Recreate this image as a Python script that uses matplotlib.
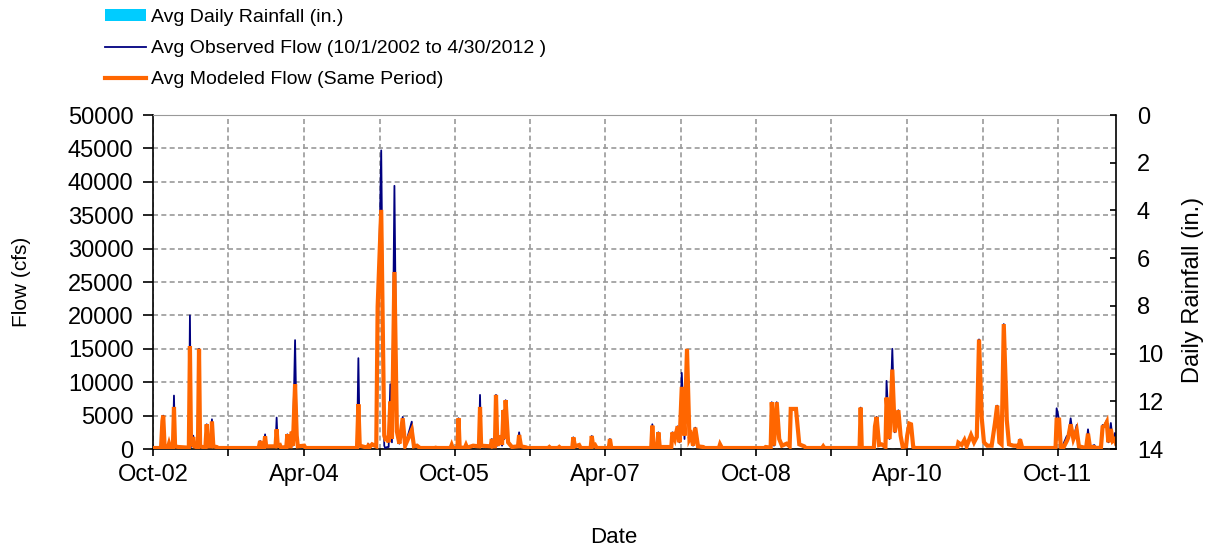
import numpy as np
import pandas as pd
import matplotlib
matplotlib.use("Agg")
import matplotlib.pyplot as plt
from matplotlib.patches import Patch
from matplotlib.lines import Line2D

# flow hydrograph vertices (cfs)
flow_dates = [
    "2002-10-01", "2002-10-30", "2002-11-04", "2002-11-07", "2002-11-12", "2002-11-24", "2002-11-28", "2002-12-02",
    "2002-12-12", "2002-12-16", "2002-12-20", "2003-01-01", "2003-02-08", "2003-02-12", "2003-02-16", "2003-02-24",
    "2003-02-28", "2003-03-13", "2003-03-17", "2003-03-21", "2003-04-09", "2003-04-14", "2003-04-18", "2003-04-29",
    "2003-05-03", "2003-05-08", "2003-05-20", "2003-05-26", "2003-10-20", "2003-10-25", "2003-10-30", "2003-11-08",
    "2003-11-12", "2003-11-16", "2003-12-06", "2003-12-20", "2003-12-24", "2003-12-28", "2004-01-05", "2004-01-09",
    "2004-01-28", "2004-02-01", "2004-02-05", "2004-02-13", "2004-02-17", "2004-02-21", "2004-02-29", "2004-03-06",
    "2004-03-10", "2004-04-02", "2004-04-07", "2004-10-11", "2004-10-16", "2004-10-21", "2004-11-17", "2004-11-21",
    "2004-11-26", "2004-12-05", "2004-12-20", "2004-12-25", "2005-01-07", "2005-01-18", "2005-01-22", "2005-01-28",
    "2005-02-03", "2005-02-09", "2005-02-15", "2005-02-24", "2005-03-05", "2005-03-14", "2005-03-26", "2005-04-04",
    "2005-04-28", "2005-05-06", "2005-05-17", "2005-05-28", "2005-07-20", "2005-07-24", "2005-07-28", "2005-09-16",
    "2005-09-20", "2005-09-24", "2005-10-11", "2005-10-15", "2005-10-19", "2005-11-07", "2005-11-11", "2005-11-15",
    "2005-12-07", "2005-12-28", "2006-01-01", "2006-01-05", "2006-02-09", "2006-02-13", "2006-02-17", "2006-02-24",
    "2006-02-28", "2006-03-05", "2006-03-18", "2006-03-22", "2006-03-27", "2006-03-30", "2006-04-04", "2006-04-13",
    "2006-04-27", "2006-05-19", "2006-05-23", "2006-05-30", "2006-06-17", "2006-06-22", "2006-09-06", "2006-09-10",
    "2006-09-14", "2006-10-12", "2006-10-16", "2006-10-20", "2006-12-02", "2006-12-06", "2006-12-12", "2006-12-27",
    "2007-01-02", "2007-02-07", "2007-02-11", "2007-02-16", "2007-02-23", "2007-03-01", "2007-04-14", "2007-04-18",
    "2007-04-23", "2007-09-15", "2007-09-19", "2007-09-24", "2007-10-07", "2007-10-11", "2007-10-16", "2007-11-04",
    "2007-11-27", "2007-12-01", "2007-12-10", "2007-12-20", "2007-12-27", "2008-01-04", "2008-01-14", "2008-01-23",
    "2008-02-01", "2008-02-07", "2008-02-14", "2008-02-22", "2008-03-03", "2008-03-22", "2008-03-27", "2008-05-18",
    "2008-05-22", "2008-05-29", "2008-10-31", "2008-11-04", "2008-11-22", "2008-11-26", "2008-12-04", "2008-12-14",
    "2008-12-23", "2009-01-02", "2009-01-19", "2009-01-30", "2009-02-03", "2009-02-22", "2009-03-06", "2009-03-24",
    "2009-03-30", "2009-05-28", "2009-06-01", "2009-06-05", "2009-10-11", "2009-10-15", "2009-10-19", "2009-12-02",
    "2009-12-06", "2009-12-12", "2009-12-21", "2009-12-30", "2010-01-13", "2010-01-17", "2010-01-28", "2010-02-07",
    "2010-02-16", "2010-03-01", "2010-03-09", "2010-03-17", "2010-03-29", "2010-04-02", "2010-04-10", "2010-04-16",
    "2010-04-24", "2010-04-30", "2010-10-01", "2010-10-05", "2010-10-17", "2010-10-27", "2010-11-04", "2010-11-20",
    "2010-12-01", "2010-12-11", "2010-12-19", "2010-12-29", "2011-01-06", "2011-01-18", "2011-02-03", "2011-02-15",
    "2011-02-23", "2011-03-03", "2011-03-11", "2011-03-19", "2011-03-30", "2011-04-07", "2011-04-23", "2011-05-05",
    "2011-05-12", "2011-05-17", "2011-05-25", "2011-09-23", "2011-09-27", "2011-10-06", "2011-10-12", "2011-10-21",
    "2011-11-03", "2011-11-08", "2011-11-17", "2011-11-27", "2011-12-09", "2011-12-17", "2012-01-12", "2012-01-19",
    "2012-01-26", "2012-02-11", "2012-02-17", "2012-03-06", "2012-03-12", "2012-03-21", "2012-03-27", "2012-04-02",
    "2012-04-11", "2012-04-18", "2012-04-26", "2012-04-30",
]
observed_cfs = [
    50, 50, 4200, 5000, 200, 100, 800, 100,
    100, 8000, 300, 300, 100, 20000, 300, 2000,
    300, 100, 15000, 300, 100, 3700, 300, 300,
    4450, 300, 300, 50, 50, 1200, 200, 200,
    2200, 300, 400, 300, 4700, 500, 600, 100,
    200, 2200, 300, 300, 2600, 500, 16300, 2000,
    300, 500, 50, 50, 13600, 500, 100, 800,
    200, 700, 300, 15000, 44700, 500, 100, 300,
    300, 9700, 1000, 39400, 2600, 800, 4800, 500,
    4100, 300, 500, 50, 50, 200, 50, 50,
    600, 50, 50, 4600, 100, 100, 600, 100,
    500, 300, 8100, 500, 300, 1500, 300, 300,
    8100, 500, 2000, 500, 5800, 1500, 7300, 1000,
    300, 300, 2500, 400, 200, 50, 50, 300,
    50, 50, 300, 50, 50, 1750, 300, 600,
    50, 50, 1950, 300, 600, 50, 50, 1500,
    50, 50, 3700, 200, 200, 2500, 200, 300,
    200, 2500, 1500, 3400, 1000, 11400, 1500, 14500,
    1500, 2000, 500, 3200, 400, 300, 50, 50,
    700, 50, 50, 300, 100, 7000, 500, 7000,
    1500, 500, 800, 300, 6000, 6000, 700, 400,
    50, 50, 400, 50, 50, 6200, 50, 50,
    3400, 4800, 600, 700, 200, 10200, 1500, 15000,
    2500, 5800, 2000, 300, 300, 2000, 3800, 3700,
    300, 50, 50, 950, 600, 1350, 400, 2100,
    1000, 1800, 16400, 4600, 1000, 500, 500, 3900,
    6500, 1000, 700, 18700, 4300, 700, 500, 500,
    100, 1450, 50, 50, 6100, 4400, 300, 700,
    1950, 1700, 4600, 1500, 3600, 400, 100, 2950,
    300, 600, 100, 200, 3600, 3500, 4300, 1000,
    3900, 1200, 2400, 1000,
]
modeled_cfs = [
    150, 150, 4200, 5000, 300, 200, 800, 200,
    200, 6300, 400, 300, 200, 15400, 400, 1800,
    400, 200, 15000, 400, 200, 3700, 400, 400,
    4100, 400, 300, 150, 150, 1200, 300, 300,
    1900, 400, 400, 400, 2950, 500, 600, 200,
    300, 2200, 400, 400, 2600, 500, 9700, 2000,
    400, 500, 150, 150, 6700, 500, 200, 500,
    300, 700, 400, 21300, 35800, 2000, 1500, 1650,
    1000, 7100, 1500, 26500, 2600, 800, 4600, 500,
    2800, 400, 500, 150, 150, 200, 150, 150,
    600, 150, 150, 4600, 200, 200, 600, 200,
    500, 400, 6300, 500, 400, 1500, 400, 400,
    8100, 500, 2000, 600, 5800, 1500, 7300, 1000,
    300, 400, 2100, 400, 250, 150, 150, 300,
    150, 150, 300, 150, 150, 1750, 400, 600,
    150, 150, 1950, 400, 600, 150, 150, 1500,
    150, 150, 3500, 300, 300, 2500, 300, 300,
    300, 2500, 1500, 3400, 1000, 9300, 2000, 15000,
    1500, 2000, 500, 3200, 400, 300, 150, 150,
    700, 150, 150, 300, 200, 7000, 500, 7000,
    1500, 500, 800, 400, 6000, 6000, 700, 400,
    150, 150, 400, 150, 150, 6200, 150, 150,
    3400, 4800, 600, 700, 300, 7700, 1500, 11900,
    2500, 5800, 2000, 300, 400, 2000, 3800, 3700,
    300, 150, 150, 950, 600, 1350, 400, 2100,
    1000, 1800, 16400, 4600, 1000, 500, 500, 3900,
    6500, 1000, 700, 18700, 4300, 700, 500, 500,
    150, 1450, 150, 150, 4400, 4400, 300, 150,
    1200, 1700, 3700, 1500, 2800, 400, 150, 2300,
    300, 300, 150, 200, 3300, 3500, 4000, 1000,
    3000, 1200, 1500, 800,
]

# no rainfall bars are visible in the source, only the legend entry
rain_dates = []
rain_in = []

tick_dates = ["2002-10-01", "2003-07-01", "2004-04-01", "2005-01-01", "2005-10-01",
              "2006-07-01", "2007-04-01", "2008-01-01", "2008-10-01", "2009-07-01",
              "2010-04-01", "2011-01-01", "2011-10-01"]
tick_labels = ["Oct-02", "", "Apr-04", "", "Oct-05", "", "Apr-07", "", "Oct-08",
               "", "Apr-10", "", "Oct-11"]

plt.rcParams['font.family'] = ['Liberation Sans', 'DejaVu Sans']

fig = plt.figure(figsize=(12.08, 5.5), dpi=100)
ax = fig.add_axes([0.1267, 0.1836, 0.7972, 0.6073])
ax2 = ax.twinx()

d = pd.to_datetime(flow_dates)
ax.plot(d, observed_cfs, color="#000080", lw=1.3, zorder=3)
ax.plot(d, modeled_cfs, color="#FF6600", lw=3.0, zorder=4, solid_joinstyle="miter")

ax2.bar(pd.to_datetime(rain_dates), rain_in, color="#00CCFF", width=1)

ax.set_xlim(pd.Timestamp("2002-10-01"), pd.Timestamp("2012-04-30"))
ax.set_ylim(0, 50000)
ax.set_yticks(np.arange(0, 50001, 5000))
ax2.set_ylim(14, 0)
ax2.set_yticks(np.arange(0, 15, 2))

ax.set_xticks(pd.to_datetime(tick_dates))
ax.set_xticklabels(tick_labels)

ax.grid(True, color="#999999", ls=(0, (3, 2)), lw=1.2)
ax.set_axisbelow(True)

for s in ["left", "bottom"]:
    ax.spines[s].set_color("black")
    ax.spines[s].set_linewidth(1.2)
ax.spines["top"].set_color("#999999")
ax.spines["right"].set_visible(False)
ax2.spines["top"].set_visible(False)
ax2.spines["left"].set_visible(False)
ax2.spines["bottom"].set_visible(False)
ax2.spines["right"].set_linewidth(1.2)

ax.tick_params(axis="y", direction="out", length=7, width=1.2, labelsize=17, pad=7)
ax.tick_params(axis="x", direction="out", length=5, width=1.2, labelsize=17, pad=6)
ax2.tick_params(axis="y", direction="in", length=4, width=1.2, labelsize=17, pad=15)

ax.set_ylabel("Flow (cfs)", fontsize=15)
ax.yaxis.set_label_coords(-0.127, 0.5)
ax.set_xlabel("Date", fontsize=16)
ax.xaxis.set_label_coords(0.478, -0.2335)
ax2.set_ylabel("Daily Rainfall (in.)", fontsize=17)
ax2.yaxis.set_label_coords(1.0685, 0.476)

handles = [Patch(facecolor="#00CCFF", edgecolor="none"),
           Line2D([], [], color="#000080", lw=1.3),
           Line2D([], [], color="#FF6600", lw=3.0)]
labels = ["Avg Daily Rainfall (in.)",
          "Avg Observed Flow (10/1/2002 to 4/30/2012 )",
          "Avg Modeled Flow (Same Period)"]
fig.legend(handles, labels, loc="upper left", bbox_to_anchor=(0.0805, 0.998),
           frameon=False, fontsize=14, handlelength=2.1, handleheight=0.5,
           handletextpad=0.28, labelspacing=0.72, borderaxespad=0)

fig.savefig("out.png", dpi=100)
